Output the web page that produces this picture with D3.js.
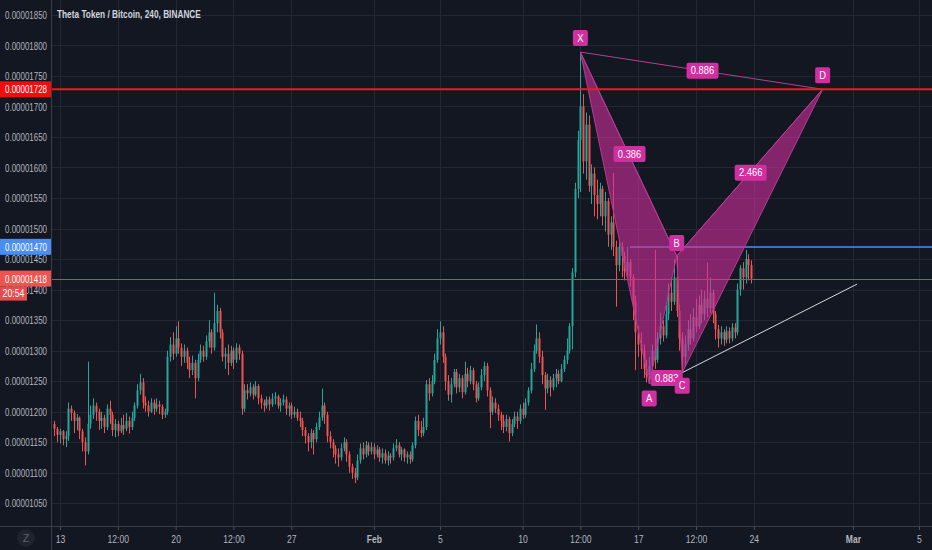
<!DOCTYPE html>
<html>
<head>
<meta charset="utf-8">
<script src="https://cdn.jsdelivr.net/npm/d3@7"></script>
<style>
  html, body { margin: 0; padding: 0; background: #131722; overflow: hidden; }
  svg { display: block; }
  text { font-family: "Liberation Sans", Arial, sans-serif; }
</style>
</head>
<body>
<svg id="chart" width="932" height="550"></svg>
<script>
// THETA/BTC 4h candles, prices in 1e-8 BTC (satoshi)
const firstCandle = Date.UTC(2020, 0, 12, 16);
const candleStep = 4 * 3600 * 1000;
const firstOpen = 1180;

const closes = [
  1172, 1162, 1168, 1155, 1160, 1205, 1198, 1185, 1190, 1168,
  1150, 1135, 1180, 1195, 1210, 1200, 1185, 1190, 1175, 1205,
  1195, 1170, 1180, 1168, 1178, 1172, 1185, 1175, 1190, 1210,
  1235, 1248, 1215, 1210, 1200, 1215, 1205, 1212, 1208, 1195,
  1200, 1290, 1310, 1295, 1320, 1305, 1290, 1300, 1280, 1268,
  1280, 1255, 1285, 1300, 1290, 1315, 1330, 1305, 1345, 1365,
  1330, 1290, 1295, 1280, 1300, 1285, 1305, 1295, 1205, 1235,
  1230, 1240, 1228, 1242, 1222, 1215, 1210, 1220, 1212, 1222,
  1225, 1210, 1215, 1220, 1205, 1210, 1195, 1200, 1190, 1185,
  1170, 1160, 1150, 1165, 1155, 1175, 1190, 1210, 1195, 1160,
  1150, 1140, 1130, 1125, 1140, 1150, 1130, 1110, 1100, 1092,
  1120, 1140, 1130, 1145, 1135, 1142, 1130, 1138, 1125, 1132,
  1120, 1128, 1125, 1140, 1145, 1130, 1138, 1125, 1130, 1122,
  1145, 1185, 1170, 1165, 1175, 1245, 1230, 1250, 1285, 1320,
  1330, 1290, 1250, 1228, 1245, 1265, 1240, 1255, 1232, 1262,
  1250, 1268, 1245, 1222, 1240, 1260, 1275, 1235, 1200, 1215,
  1205, 1195, 1185, 1175, 1188, 1165, 1180, 1192, 1185, 1205,
  1195, 1215, 1235, 1270, 1300, 1320, 1290, 1260, 1238, 1252,
  1240, 1255, 1262, 1250, 1270, 1285, 1300, 1340, 1428, 1565,
  1645, 1700, 1610, 1670, 1570, 1590, 1555, 1540, 1565, 1520,
  1545, 1490, 1510, 1470, 1440, 1470, 1455, 1430, 1445, 1420,
  1380, 1330, 1310, 1300, 1270, 1260, 1275, 1300, 1285, 1320,
  1340, 1325, 1360, 1395, 1380, 1420, 1365, 1320, 1290, 1310,
  1335, 1320, 1355, 1340, 1375, 1360, 1385, 1370, 1395, 1360,
  1335, 1320, 1330, 1318, 1332, 1320, 1338, 1330, 1400, 1435,
  1420, 1450, 1440, 1418
];

const highs = [
  1185, 1175, 1172, 1170, 1168, 1215, 1210, 1202, 1196, 1192,
  1172, 1158, 1282, 1210, 1222, 1215, 1205, 1200, 1195, 1212,
  1218, 1200, 1188, 1185, 1190, 1195, 1198, 1192, 1200, 1215,
  1245, 1262, 1255, 1225, 1218, 1222, 1220, 1222, 1218, 1212,
  1205, 1300, 1322, 1330, 1340, 1348, 1312, 1310, 1305, 1290,
  1292, 1285, 1295, 1310, 1308, 1325, 1350, 1335, 1395, 1375,
  1370, 1335, 1305, 1310, 1308, 1305, 1312, 1310, 1300, 1245,
  1245, 1248, 1245, 1250, 1245, 1228, 1220, 1225, 1225, 1230,
  1232, 1228, 1222, 1228, 1225, 1215, 1215, 1208, 1205, 1200,
  1190, 1175, 1165, 1172, 1170, 1182, 1200, 1238, 1215, 1200,
  1168, 1155, 1145, 1140, 1148, 1158, 1155, 1135, 1115, 1108,
  1130, 1148, 1150, 1152, 1150, 1150, 1148, 1145, 1142, 1140,
  1138, 1135, 1132, 1148, 1155, 1150, 1142, 1140, 1135, 1135,
  1150, 1192, 1195, 1185, 1190, 1252, 1255, 1260, 1295, 1335,
  1348, 1340, 1295, 1260, 1255, 1270, 1270, 1262, 1260, 1282,
  1272, 1275, 1272, 1250, 1248, 1270, 1282, 1280, 1240, 1225,
  1222, 1212, 1200, 1195, 1195, 1192, 1188, 1200, 1200, 1212,
  1215, 1222, 1240, 1280, 1310, 1343, 1330, 1300, 1265, 1262,
  1258, 1262, 1270, 1268, 1278, 1292, 1320, 1345, 1435, 1575,
  1660, 1789, 1720, 1690, 1685, 1605, 1600, 1580, 1575, 1570,
  1560, 1550, 1520, 1591, 1480, 1480, 1478, 1462, 1470, 1450,
  1425, 1390, 1340, 1330, 1310, 1285, 1290, 1310, 1465, 1330,
  1362, 1350, 1375, 1410, 1420, 1450, 1455, 1375, 1330, 1325,
  1350, 1360, 1370, 1385, 1390, 1400, 1398, 1444, 1420, 1400,
  1365, 1342, 1340, 1335, 1340, 1338, 1345, 1345, 1410, 1440,
  1445, 1465, 1458, 1448
];

const lows = [
  1160, 1150, 1148, 1145, 1142, 1152, 1185, 1165, 1170, 1155,
  1135, 1112, 1130, 1172, 1188, 1185, 1170, 1172, 1165, 1170,
  1180, 1160, 1158, 1160, 1165, 1162, 1168, 1164, 1170, 1185,
  1205, 1228, 1205, 1200, 1192, 1198, 1195, 1200, 1196, 1188,
  1190, 1195, 1282, 1285, 1290, 1295, 1275, 1280, 1270, 1255,
  1260, 1222, 1250, 1280, 1282, 1285, 1305, 1295, 1300, 1330,
  1320, 1282, 1270, 1260, 1275, 1270, 1280, 1285, 1195, 1200,
  1220, 1225, 1220, 1225, 1212, 1205, 1200, 1205, 1202, 1208,
  1212, 1205, 1200, 1210, 1195, 1192, 1188, 1190, 1185, 1175,
  1160, 1148, 1135, 1140, 1130, 1150, 1170, 1185, 1180, 1150,
  1140, 1125, 1115, 1110, 1120, 1135, 1118, 1100, 1090, 1083,
  1088, 1115, 1122, 1125, 1128, 1130, 1122, 1125, 1118, 1115,
  1115, 1112, 1115, 1120, 1135, 1125, 1120, 1118, 1115, 1115,
  1118, 1140, 1160, 1158, 1160, 1170, 1218, 1225, 1245, 1280,
  1310, 1280, 1235, 1218, 1215, 1240, 1230, 1232, 1222, 1228,
  1240, 1245, 1235, 1215, 1218, 1235, 1250, 1225, 1173, 1195,
  1198, 1185, 1170, 1165, 1168, 1151, 1160, 1175, 1172, 1180,
  1188, 1190, 1210, 1230, 1265, 1295, 1280, 1245, 1203, 1230,
  1225, 1235, 1240, 1245, 1248, 1265, 1278, 1295, 1302, 1420,
  1550, 1560, 1590, 1580, 1560, 1540, 1520, 1515, 1520, 1505,
  1495, 1470, 1465, 1455, 1372, 1430, 1420, 1415, 1420, 1405,
  1350, 1268, 1290, 1270, 1255, 1248, 1247, 1265, 1270, 1280,
  1310, 1315, 1320, 1350, 1365, 1375, 1355, 1300, 1264, 1275,
  1300, 1310, 1315, 1330, 1335, 1345, 1350, 1355, 1362, 1345,
  1318, 1305, 1310, 1308, 1312, 1312, 1315, 1320, 1325, 1390,
  1400, 1410, 1415, 1410
];

const priceTicks = [1050, 1100, 1150, 1200, 1250, 1300, 1350, 1400, 1450,
  1500, 1550, 1600, 1650, 1700, 1750, 1800, 1850];

const timeTicks = ['2020-01-13T00:00Z', '2020-01-16T12:00Z', '2020-01-20T00:00Z',
  '2020-01-23T12:00Z', '2020-01-27T00:00Z', '2020-02-01T00:00Z', '2020-02-05T00:00Z',
  '2020-02-10T00:00Z', '2020-02-13T12:00Z', '2020-02-17T00:00Z', '2020-02-20T12:00Z',
  '2020-02-24T00:00Z', '2020-03-01T00:00Z', '2020-03-05T00:00Z'];
const timeLabels = ['13', '12:00', '20', '12:00', '27', 'Feb', '5', '10', '12:00',
  '17', '12:00', '24', 'Mar', '5'];
const boldLabels = ['Feb', 'Mar'];

// XABCD harmonic pattern
const patternNames = ['X', 'A', 'B', 'C', 'D'];
const patternTimes = ['2020-02-13T12:00Z', '2020-02-17T16:00Z', '2020-02-19T08:00Z',
  '2020-02-19T16:00Z', '2020-02-28T04:00Z'];
const patternPrices = [1789, 1246, 1455, 1264, 1728];
const ratioPairs = [['X', 'B'], ['A', 'C'], ['B', 'D'], ['X', 'D']];
const ratioLabels = ['0.386', '0.883', '2.466', '0.886'];

const resistanceLevel = 1728;
const bLevel = 1470;
const bLevelStart = '2020-02-16T12:00Z';
const lastPrice = 1418;
const countdown = '20:54';
const trendTimes = ['2020-02-19T16:00Z', '2020-03-01T06:00Z'];
const trendPrices = [1264, 1409];

// ---- layout ----
const W = 932, H = 550;
const plotLeft = 51, plotBottom = 526;
const bg = '#131722';
const gridColor = '#232733';
const axisText = '#b2b5be';
const up = '#26a69a', down = '#ef5350';
const pink = '#d02f9f';

const svg = d3.select('#chart');
svg.append('rect').attr('width', W).attr('height', H).attr('fill', bg);

const x = d3.scaleUtc()
  .domain([new Date('2020-01-13T00:00Z'), new Date('2020-03-05T00:00Z')])
  .range([60, 919]);
const y = d3.scaleLinear().domain([1050, 1850]).range([503.3, 14.8]);

const fmtPrice = v => (v / 1e8).toFixed(8);

// squeeze text horizontally around its anchor, TradingView's font is narrower
function squeeze(sel, k) {
  sel.each(function () {
    const x0 = +(this.getAttribute('x') || 0);
    d3.select(this).attr('transform', `translate(${x0 * (1 - k)},0) scale(${k},1)`);
  });
}
function squeezeTo(sel, w) {
  sel.each(function () {
    squeeze(d3.select(this), w / this.getComputedTextLength());
  });
}

svg.append('defs').append('clipPath').attr('id', 'plot')
  .append('rect').attr('x', plotLeft).attr('y', 0)
  .attr('width', W - plotLeft).attr('height', plotBottom);

const plot = svg.append('g').attr('clip-path', 'url(#plot)');

// grid
plot.append('g').selectAll('line').data(priceTicks).join('line')
  .attr('x1', plotLeft).attr('x2', W)
  .attr('y1', d => Math.round(y(d)) + 0.5).attr('y2', d => Math.round(y(d)) + 0.5)
  .attr('stroke', gridColor).attr('stroke-width', 1);
plot.append('g').selectAll('line').data(timeTicks).join('line')
  .attr('x1', d => Math.round(x(new Date(d))) + 0.5).attr('x2', d => Math.round(x(new Date(d))) + 0.5)
  .attr('y1', 0).attr('y2', plotBottom)
  .attr('stroke', gridColor).attr('stroke-width', 1);

// candles
const candles = closes.map((c, i) => ({
  t: new Date(firstCandle + i * candleStep),
  o: i === 0 ? firstOpen : closes[i - 1],
  c: c,
  h: highs[i],
  l: lows[i]
}));

const cg = plot.append('g');
cg.selectAll('line').data(candles).join('line')
  .attr('x1', d => Math.round(x(d.t)) + 0.5).attr('x2', d => Math.round(x(d.t)) + 0.5)
  .attr('y1', d => y(Math.max(d.h, d.o, d.c))).attr('y2', d => y(Math.min(d.l, d.o, d.c)))
  .attr('stroke', d => d.c >= d.o ? up : down).attr('stroke-width', 1);
cg.selectAll('rect').data(candles).join('rect')
  .attr('x', d => Math.round(x(d.t)) - 0.5)
  .attr('width', 2)
  .attr('y', d => y(Math.max(d.o, d.c)))
  .attr('height', d => Math.max(1, Math.abs(y(d.o) - y(d.c))))
  .attr('fill', d => d.c >= d.o ? up : down);

// horizontal levels
plot.append('line')
  .attr('x1', x(new Date(bLevelStart))).attr('x2', W)
  .attr('y1', Math.round(y(bLevel))).attr('y2', Math.round(y(bLevel)))
  .attr('stroke', '#4a8ef5').attr('stroke-width', 1.5);
plot.append('line')
  .attr('x1', plotLeft).attr('x2', W)
  .attr('y1', Math.round(y(lastPrice)) + 0.5).attr('y2', Math.round(y(lastPrice)) + 0.5)
  .attr('stroke', '#c9434b').attr('stroke-width', 1);

// pattern
const pts = {};
patternNames.forEach((n, i) => {
  pts[n] = [x(new Date(patternTimes[i])), y(patternPrices[i])];
});
const pg = plot.append('g');
[['X', 'A', 'B'], ['B', 'C', 'D']].forEach(tri => {
  pg.append('path')
    .attr('d', d3.line()(tri.map(n => pts[n])) + 'Z')
    .attr('fill', 'rgba(208,47,159,0.6)')
    .attr('stroke', '#b83a92').attr('stroke-width', 1);
});
ratioPairs.forEach(([a, b]) => {
  pg.append('line')
    .attr('x1', pts[a][0]).attr('y1', pts[a][1])
    .attr('x2', pts[b][0]).attr('y2', pts[b][1])
    .attr('stroke', '#b0408e').attr('stroke-width', 1);
});

// trend line
plot.append('line')
  .attr('x1', x(new Date(trendTimes[0]))).attr('y1', y(trendPrices[0]))
  .attr('x2', x(new Date(trendTimes[1]))).attr('y2', y(trendPrices[1]))
  .attr('stroke', '#d8d8dc').attr('stroke-width', 1);

// resistance line above pattern
plot.append('line')
  .attr('x1', plotLeft).attr('x2', W)
  .attr('y1', y(resistanceLevel)).attr('y2', y(resistanceLevel))
  .attr('stroke', '#f21a1a').attr('stroke-width', 2);

// pattern labels
function tag(g, text, cx, cy, w) {
  g.append('rect')
    .attr('x', cx - w / 2).attr('y', cy - 8).attr('width', w).attr('height', 16)
    .attr('rx', 2).attr('fill', pink);
  g.append('text')
    .attr('x', cx).attr('y', cy + 3.8)
    .attr('text-anchor', 'middle').attr('fill', '#ffffff')
    .attr('font-size', 11)
    .text(text)
    .call(squeeze, 0.85);
}
const lg = plot.append('g');
ratioPairs.forEach(([a, b], i) => {
  tag(lg, ratioLabels[i], (pts[a][0] + pts[b][0]) / 2 + 1, (pts[a][1] + pts[b][1]) / 2, 32);
});
const letterOffset = { X: -14, A: 15, B: -13, C: 13, D: -14 };
patternNames.forEach(n => {
  tag(lg, n, pts[n][0], pts[n][1] + letterOffset[n], 15);
});

// title
svg.append('text')
  .attr('x', 57).attr('y', 18.5)
  .attr('fill', '#d1d4dc').attr('font-size', 11.5).attr('font-weight', 600)
  .text('Theta Token / Bitcoin, 240, BINANCE')
  .call(squeezeTo, 144);

// price axis
const yAxis = svg.append('g')
  .attr('transform', `translate(${plotLeft},0)`)
  .call(d3.axisLeft(y).tickValues(priceTicks).tickFormat(fmtPrice).tickSize(0).tickPadding(4));
yAxis.select('.domain').remove();
yAxis.selectAll('text').attr('fill', axisText).attr('font-size', 11.5)
  .attr('font-family', '"Liberation Sans", Arial, sans-serif')
  .call(squeezeTo, 42);

// time axis
const xAxis = svg.append('g')
  .attr('transform', `translate(0,${plotBottom})`)
  .call(d3.axisBottom(x).tickValues(timeTicks.map(d => new Date(d)))
    .tickFormat((d, i) => timeLabels[i]).tickSize(4).tickPadding(5));
xAxis.select('.domain').remove();
xAxis.selectAll('.tick line').attr('stroke', '#4a4e59');
xAxis.selectAll('text').attr('fill', axisText).attr('font-size', 11)
  .attr('font-weight', function () { return boldLabels.includes(this.textContent) ? 700 : 400; })
  .attr('font-family', '"Liberation Sans", Arial, sans-serif')
  .call(squeeze, 0.78);

// separators
svg.append('line').attr('x1', plotLeft + 0.5).attr('x2', plotLeft + 0.5)
  .attr('y1', 0).attr('y2', H).attr('stroke', '#3a3e49');
svg.append('line').attr('x1', 0).attr('x2', W)
  .attr('y1', plotBottom + 0.5).attr('y2', plotBottom + 0.5).attr('stroke', '#3a3e49');

// price labels on axis
function axisTag(value, color) {
  const cy = y(value);
  svg.append('rect').attr('x', 0).attr('y', cy - 8).attr('width', plotLeft).attr('height', 16)
    .attr('fill', color);
  svg.append('text').attr('x', 47).attr('y', cy + 4)
    .attr('text-anchor', 'end').attr('fill', '#ffffff').attr('font-size', 11.5)
    .text(fmtPrice(value))
    .call(squeezeTo, 42);
}
axisTag(resistanceLevel, '#f20d0d');
axisTag(bLevel, '#4a8ef0');
axisTag(lastPrice, '#ef5350');
const cdy = y(lastPrice) + 8;
svg.append('rect').attr('x', 0).attr('y', cdy).attr('width', 27).attr('height', 14)
  .attr('fill', '#e84b4e');
svg.append('text').attr('x', 13.5).attr('y', cdy + 10.5)
  .attr('text-anchor', 'middle').attr('fill', '#ffffff').attr('font-size', 11)
  .text(countdown)
  .call(squeezeTo, 22);

// timezone button
svg.append('circle').attr('cx', 26).attr('cy', 538).attr('r', 9).attr('fill', '#1f232e');
svg.append('text').attr('x', 26).attr('y', 542).attr('text-anchor', 'middle')
  .attr('fill', '#5d606b').attr('font-size', 11).text('Z');
</script>
</body>
</html>
